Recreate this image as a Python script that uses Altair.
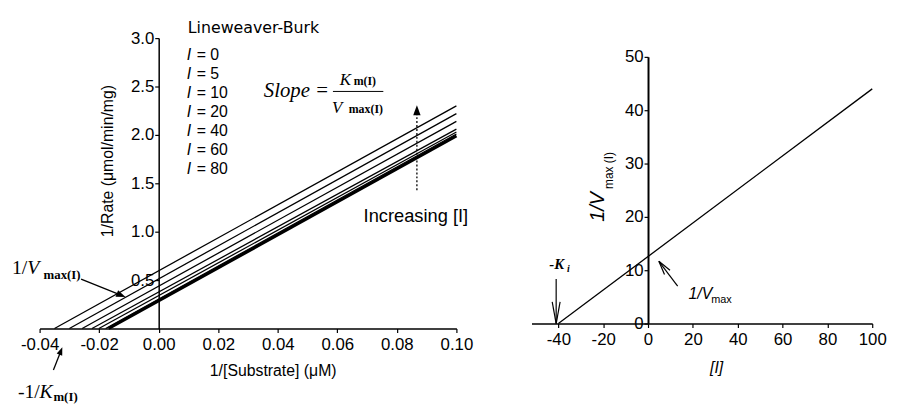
import math
import altair as alt
import pandas as pd

# ---------------- data ----------------
# Left panel: Lineweaver-Burk lines, one per inhibitor concentration [I]
inhibitor = [0, 5, 10, 20, 40, 60, 80]
x_intercept = [-0.0168, -0.0178, -0.0201, -0.0224, -0.0257, -0.0300, -0.0350]
x_end = 0.10
y_at_end = [1.99, 2.01, 2.03, 2.06, 2.14, 2.22, 2.30]

# Right panel: replot of 1/Vmax(I) against [I]
replot_I = [-40, 100]
replot_inv_vmax = [0.0, 44.0]

left_x_ticks = [-0.04, -0.02, 0.00, 0.02, 0.04, 0.06, 0.08, 0.10]
left_y_ticks = [0.5, 1.0, 1.5, 2.0, 2.5, 3.0]
right_x_ticks = [-40, -20, 0, 20, 40, 60, 80, 100]
right_y_ticks = [0, 10, 20, 30, 40, 50]

# ---------------- layout ----------------
OX, OY = 40, 36          # page position of the view origin
W, H = 843, 294
SANS = "Liberation Sans"
SERIF = "Liberation Serif"

rows = []
for i, x0, y1 in zip(inhibitor, x_intercept, y_at_end):
    rows.append({"I": i, "x": x0, "y": 0.0})
    rows.append({"I": i, "x": x_end, "y": y1})
left_df = pd.DataFrame(rows)
right_df = pd.DataFrame({"I": replot_I, "v": replot_inv_vmax})

minus_fix = "replace(datum.label, '\u2212', '-')"

left_lines = alt.Chart(left_df).mark_line(color="black").encode(
    x=alt.X("x:Q",
            scale=alt.Scale(domain=[-0.04, 0.10], range=[0, 422], nice=False, zero=False),
            axis=alt.Axis(orient="bottom", values=left_x_ticks, format=".2f",
                          labelExpr=minus_fix, labelPadding=4,
                          title="1/[Substrate] (\u03bcM)", titleX=236, titleY=35,
                          titleAlign="center", titleBaseline="top")),
    y=alt.Y("y:Q",
            scale=alt.Scale(domain=[0, 3.0], range=[294, 0], nice=False, zero=False),
            axis=alt.Axis(orient="left", values=left_y_ticks, format=".1f",
                          offset=-(0.04 / 0.14) * 422, labelPadding=1,
                          title="1/Rate (\u03bcmol/min/mg)", titleX=-44, titleY=124,
                          titleAngle=270, titleAlign="center", titleBaseline="bottom")),
    detail="I:N",
    strokeWidth=alt.condition("datum.I == 0", alt.value(3.2), alt.value(1.3)),
)

right_line = alt.Chart(right_df).mark_line(color="black", strokeWidth=1.3).encode(
    x=alt.X("I:Q",
            scale=alt.Scale(domain=[-52, 100], range=[498, 843], nice=False, zero=False),
            axis=alt.Axis(orient="bottom", values=right_x_ticks, format="d",
                          labelExpr=minus_fix, offset=-5, labelPadding=4,
                          title="[I]", titleX=685, titleY=37, titleFontStyle="italic",
                          titleAlign="center", titleBaseline="top")),
    y=alt.Y("v:Q",
            scale=alt.Scale(domain=[0, 50], range=[289, 19], nice=False, zero=False),
            axis=alt.Axis(orient="left", values=right_y_ticks, format="d",
                          offset=-616, labelPadding=1, domainWidth=2, title=None)),
)

ONE = alt.Data(values=[{"k": 1}])


def txt(s, x, y, size, font=SANS, style="normal", weight="normal",
        align="left", baseline="alphabetic", angle=0):
    return alt.Chart(ONE).mark_text(
        align=align, baseline=baseline, font=font, fontSize=size,
        fontStyle=style, fontWeight=weight, color="black", angle=angle,
    ).encode(x=alt.value(x - OX), y=alt.value(y - OY), text=alt.value(s))


def rule(x1, y1, x2, y2, w=1.3, dash=None):
    kw = dict(color="black", strokeWidth=w)
    if dash:
        kw["strokeDash"] = dash
    return alt.Chart(ONE).mark_rule(**kw).encode(
        x=alt.value(x1 - OX), y=alt.value(y1 - OY),
        x2=alt.value(x2 - OX), y2=alt.value(y2 - OY))


HEAD = "M0,-1L0.75,1L-0.75,1Z"


def head(tip_x, tip_y, tail_x, tail_y, size=100):
    dx, dy = tip_x - tail_x, tip_y - tail_y
    n = math.hypot(dx, dy)
    ux, uy = dx / n, dy / n
    half = math.sqrt(size) / 2
    cx, cy = tip_x - half * ux, tip_y - half * uy
    ang = math.degrees(math.atan2(ux, -uy)) % 360
    return alt.Chart(ONE).mark_point(
        shape=HEAD, filled=True, size=size, angle=ang, color="black",
        opacity=1, strokeWidth=0,
    ).encode(x=alt.value(cx - OX), y=alt.value(cy - OY))


def arrow_filled(tail_x, tail_y, tip_x, tip_y, size=100, dash=None):
    dx, dy = tip_x - tail_x, tip_y - tail_y
    n = math.hypot(dx, dy)
    half = math.sqrt(size) / 2
    ex, ey = tip_x - dx / n * half * 1.2, tip_y - dy / n * half * 1.2
    return [rule(tail_x, tail_y, ex, ey, dash=dash), head(tip_x, tip_y, tail_x, tail_y, size)]


def arrow_open(tail_x, tail_y, tip_x, tip_y, length=14, spread=3.5):
    dx, dy = tip_x - tail_x, tip_y - tail_y
    n = math.hypot(dx, dy)
    ux, uy = dx / n, dy / n
    bx, by = tip_x - length * ux, tip_y - length * uy
    px, py = -uy, ux
    return [
        rule(tail_x, tail_y, tip_x, tip_y, w=1.2),
        rule(bx + spread * px, by + spread * py, tip_x, tip_y, w=1.2),
        rule(bx - spread * px, by - spread * py, tip_x, tip_y, w=1.2),
    ]


ann = []
# left panel annotations
ann.append(txt("Lineweaver-Burk", 190, 31, 16, font="DejaVu Sans"))
for k, i in enumerate(inhibitor):
    yb = 58 + k * 19.3
    ann.append(txt("I", 189, yb, 16, style="italic"))
    ann.append(txt("= " + str(i), 199, yb, 16))

ann.append(txt("Slope =", 267, 96, 21, font=SERIF, style="italic"))
ann.append(txt("K", 344, 83, 17, font=SERIF, style="italic"))
ann.append(txt("m(I)", 358, 83, 12, font=SERIF, weight="bold"))
ann.append(rule(337, 90, 388, 90, w=1))
ann.append(txt("V", 336, 112, 17, font=SERIF, style="italic"))
ann.append(txt("max(I)", 353, 112, 12, font=SERIF, weight="bold"))

ann += arrow_filled(422, 190, 422, 104, size=100, dash=[2, 2])
ann.append(txt("Increasing [I]", 368, 222, 18.5))

ann.append(txt("1/", 12, 275, 20, font=SERIF))
ann.append(txt("V", 27.5, 275, 20, font=SERIF, style="italic"))
ann.append(txt("max(I)", 44, 280, 13, font=SERIF, weight="bold"))
ann += arrow_filled(82, 280, 127, 298, size=90)

ann.append(txt("-1/", 18, 400, 20, font=SERIF))
ann.append(txt("K", 40, 400, 20, font=SERIF, style="italic"))
ann.append(txt("m(I)", 54, 403, 13, font=SERIF, weight="bold"))
ann += arrow_filled(54, 372, 63, 349, size=64)

# right panel annotations
ann.append(txt("1/V", 605, 207, 20, style="italic", align="center",
               baseline="middle", angle=270))
ann.append(txt("max (I)", 617, 170, 12, align="center", baseline="middle", angle=270))

ann.append(txt("-K", 556, 270, 15, font=SERIF, style="italic", weight="bold"))
ann.append(txt("i", 574, 273, 10, font=SERIF, style="italic", weight="bold"))
ann += arrow_open(563, 280, 563, 325, length=22, spread=4)

ann.append(txt("1/V", 697, 300, 16, style="italic"))
ann.append(txt("max", 720, 304, 11))
ann += arrow_open(686, 287, 667, 262, length=14, spread=3.5)

chart = alt.layer(left_lines, right_line, *ann).resolve_scale(
    x="independent", y="independent"
).properties(
    width=W, height=H,
    autosize=alt.AutoSizeParams(type="none"),
    padding={"left": OX - 8, "top": OY - 8, "right": 18, "bottom": 77},
    background="white",
).configure_view(stroke=None).configure_axis(
    grid=False, domainColor="black", domainWidth=1.5, tickColor="black",
    tickWidth=1.2, tickSize=4, labelColor="black", labelFont=SANS,
    labelFontSize=17, labelFlush=False, labelOverlap=False,
    titleColor="black", titleFont=SANS, titleFontSize=16, titleFontWeight="normal",
)

chart.save("out.html", embed_options={"renderer": "svg", "actions": False})
